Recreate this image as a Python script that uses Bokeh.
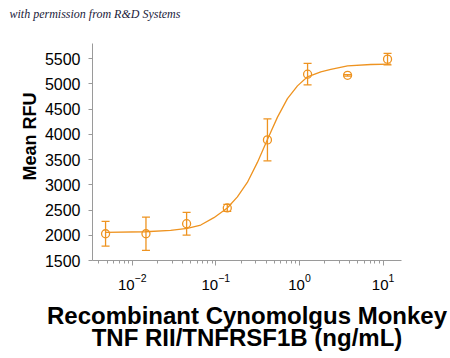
from bokeh.plotting import figure
from bokeh.models import (ColumnDataSource, Whisker, TeeHead, Title, Range1d,
                          FixedTicker, LogTicker)
from bokeh.embed import file_html
from bokeh.resources import INLINE

# ---- data ----
conc = [0.0048, 0.0146, 0.0447, 0.137, 0.414, 1.25, 3.76, 11.3]
mean_rfu = [2030, 2030, 2229, 2542, 3890, 5192, 5170, 5490]
err = [245, 330, 225, 70, 415, 213, 15, 115]

curve_x = [0.00479, 0.0144, 0.0288, 0.0456, 0.066, 0.0948, 0.137, 0.181,
           0.238, 0.314, 0.414, 0.546, 0.718, 0.946, 1.247, 1.80, 2.37,
           3.76, 7.14, 12.4]
curve_y = [2058, 2070, 2098, 2137, 2203, 2349, 2540, 2760,
           3046, 3444, 3896, 4341, 4707, 4960, 5140, 5237, 5285,
           5357, 5384, 5390]

y_ticks = [1500, 2000, 2500, 3000, 3500, 4000, 4500, 5000, 5500]

x_title = "Recombinant Cynomolgus Monkey\nTNF RII/TNFRSF1B (ng/mL)"
y_title = "Mean RFU"
note = "with permission from R&D Systems"

ORANGE = "#EE9320"
AXIS = "#9a9a9a"

lower = [m - e for m, e in zip(mean_rfu, err)]
upper = [m + e for m, e in zip(mean_rfu, err)]

src = ColumnDataSource(dict(x=conc, y=mean_rfu, lo=lower, hi=upper))

p = figure(width=450, height=358, x_axis_type="log",
           x_range=Range1d(10 ** -2.475, 10 ** 1.22),
           y_range=Range1d(1500, 5800),
           output_backend="svg", toolbar_location=None,
           min_border_left=92, min_border_right=49,
           min_border_top=43, min_border_bottom=98)

p.outline_line_color = None
p.grid.grid_line_color = None
p.background_fill_color = "white"
p.border_fill_color = "white"

# axes
xa = p.xaxis[0]
xa.ticker = LogTicker(num_minor_ticks=10)
xa.axis_line_color = AXIS
xa.major_tick_line_color = AXIS
xa.minor_tick_line_color = AXIS
xa.major_tick_in = 0
xa.major_tick_out = 5
xa.minor_tick_in = 0
xa.minor_tick_out = 3
xa.major_label_text_font = "Liberation Sans"
xa.major_label_text_font_size = "15px"
xa.major_label_text_color = "black"
xa.major_label_standoff = 8
xa.axis_label = x_title
xa.axis_label_text_font = "Liberation Sans"
xa.axis_label_text_font_style = "bold"
xa.axis_label_text_font_size = "24px"
xa.axis_label_text_color = "black"
xa.axis_label_text_line_height = 0.85
xa.axis_label_standoff = 9

ya = p.yaxis[0]
ya.ticker = FixedTicker(ticks=y_ticks)
ya.axis_line_color = AXIS
ya.major_tick_line_color = AXIS
ya.minor_tick_line_color = None
ya.major_tick_in = 0
ya.major_tick_out = 4
ya.major_label_text_font = "Liberation Sans"
ya.major_label_text_font_size = "16px"
ya.major_label_text_color = "black"
ya.major_label_standoff = 8

# fitted curve
p.line(curve_x, curve_y, line_color=ORANGE, line_width=1.3)

# error bars
w = Whisker(source=src, base="x", lower="lo", upper="hi",
            line_color=ORANGE, line_width=1.3,
            upper_head=TeeHead(size=8, line_color=ORANGE, line_width=1.3),
            lower_head=TeeHead(size=8, line_color=ORANGE, line_width=1.3))
p.add_layout(w)

# points
p.scatter("x", "y", source=src, marker="circle", size=8,
          fill_color=None, line_color=ORANGE, line_width=1.3)

# titles
p.add_layout(Title(text=y_title, align="left", offset=80,
                   text_font="Liberation Sans", text_font_style="bold",
                   text_font_size="18px", text_color="black",
                   standoff=4), "left")
# spacer between the frame and the note
p.add_layout(Title(text=" ", text_font_size="1px", standoff=20), "above")
p.add_layout(Title(text=note, align="left", offset=-83,
                   text_font="Liberation Serif", text_font_style="italic",
                   text_font_size="12px", text_color="#1b1b3a",
                   standoff=0), "above")

open("out.html", "w").write(file_html(p, INLINE))
